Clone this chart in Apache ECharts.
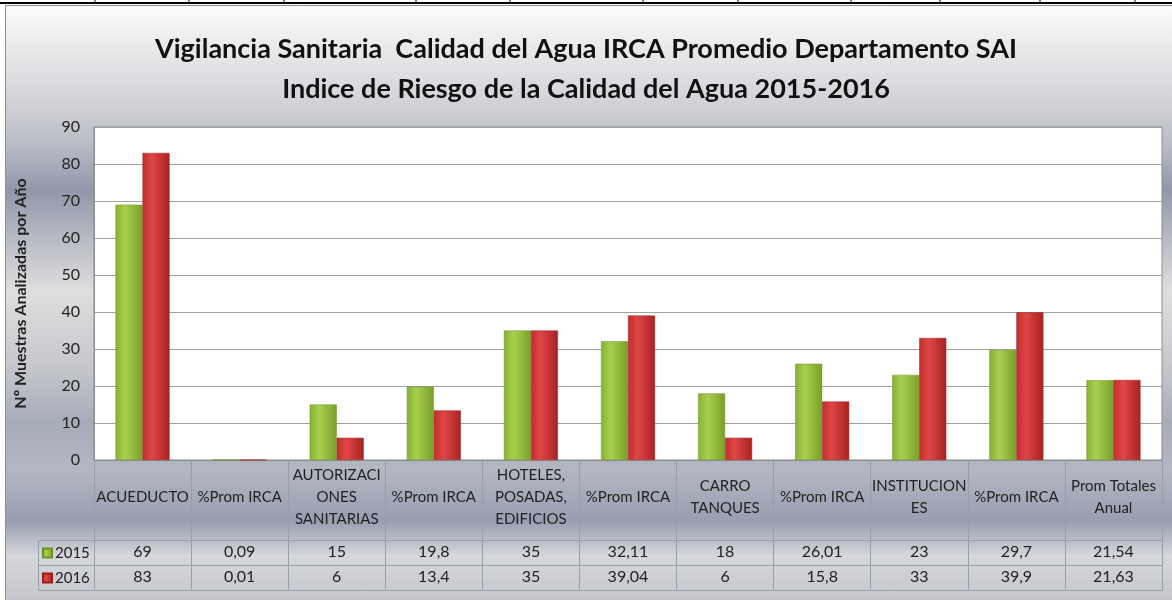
<!DOCTYPE html>
<html>
<head>
<meta charset="utf-8">
<script src="https://cdn.jsdelivr.net/npm/echarts@6/dist/echarts.min.js"></script>
<style>
html, body { margin: 0; padding: 0; background: #fff; }
#main { width: 1172px; height: 600px; }
</style>
</head>
<body>
<div id="main"></div>
<script>
var categories = ['ACUEDUCTO', '%Prom IRCA', 'AUTORIZACI\nONES\nSANITARIAS', '%Prom IRCA',
	'HOTELES,\nPOSADAS,\nEDIFICIOS', '%Prom IRCA', 'CARRO\nTANQUES', '%Prom IRCA',
	'INSTITUCION\nES', '%Prom IRCA', 'Prom Totales\nAnual'];
var years = ['2015', '2016'];
var data2015 = [69, 0.09, 15, 19.8, 35, 32.11, 18, 26.01, 23, 29.7, 21.54];
var data2016 = [83, 0.01, 6, 13.4, 35, 39.04, 6, 15.8, 33, 39.9, 21.63];
var yTicks = { min: 0, max: 90, interval: 10 };

// numeros con coma decimal como en la tabla de Excel
function fmt(v) { return String(v).replace('.', ','); }

var chart = echarts.init(document.getElementById('main'));
var font = 'Lato, "Open Sans", sans-serif';

function barGrad(c0, c1, c2) {
	return new echarts.graphic.LinearGradient(0, 0, 1, 0, [
		{offset: 0, color: c0}, {offset: 0.35, color: c1}, {offset: 1, color: c2}
	]);
}
var green = barGrad('#86b036', '#a8d04f', '#7a9f2a');
var red = barGrad('#c22d2d', '#e04646', '#a82222');

var topTicks = [95, 189, 284, 416, 510, 643, 738, 851, 940, 1040, 1135];
var deco = [];
// fondo del area del grafico
deco.push({
	type: 'rect', z: -10, silent: true,
	shape: {x: 5.5, y: 5.5, width: 1167, height: 595},
	style: {
		fill: new echarts.graphic.LinearGradient(0, 0, 0, 1, [
			{offset: 0, color: '#fbfbfb'},
			{offset: 0.16, color: '#d3d4d8'},
			{offset: 0.24, color: '#b7bac4'},
			{offset: 0.31, color: '#8f97a9'},
			{offset: 0.395, color: '#b9bcc4'},
			{offset: 0.48, color: '#dedede'},
			{offset: 0.6, color: '#c8c9ce'},
			{offset: 0.7, color: '#a7acb9'},
			{offset: 0.78, color: '#b3b7c2'},
			{offset: 0.866, color: '#979eb0'},
			{offset: 0.924, color: '#d6d7db'},
			{offset: 1, color: '#c5c6cb'}
		]),
		stroke: '#8c8c8c', lineWidth: 1
	}
});
// linea de la hoja de calculo arriba
deco.push({type: 'line', silent: true, shape: {x1: 0, y1: 3, x2: 1172, y2: 3}, style: {stroke: '#000', lineWidth: 2}});
topTicks.forEach(function (x) {
	deco.push({type: 'line', silent: true, shape: {x1: x, y1: 0, x2: x, y2: 3}, style: {stroke: '#000', lineWidth: 1}});
});
// columna de la leyenda en la tabla
[540.5, 565.5, 590.5].forEach(function (y) {
	deco.push({type: 'line', silent: true, shape: {x1: 38, y1: y, x2: 94, y2: y}, style: {stroke: '#9a9ea8', lineWidth: 1}});
});
deco.push({type: 'line', silent: true, shape: {x1: 38.5, y1: 540, x2: 38.5, y2: 591}, style: {stroke: '#9a9ea8', lineWidth: 1}});

var option = {
	animation: false,
	title: {
		text: 'Vigilancia Sanitaria  Calidad del Agua IRCA Promedio Departamento SAI\nIndice de Riesgo de la Calidad del Agua 2015-2016',
		left: 'center',
		top: 29,
		padding: 0,
		textStyle: {fontFamily: font, fontSize: 27, fontWeight: 'bold', color: '#111', lineHeight: 40}
	},
	legend: {
		data: years,
		orient: 'vertical',
		left: 42,
		top: 545,
		padding: 0,
		itemWidth: 9,
		itemHeight: 9,
		itemGap: 9,
		icon: 'rect',
		textStyle: {fontFamily: font, fontSize: 15, color: '#222', lineHeight: 16, padding: [0, 0, 0, -2]}
	},
	grid: {
		left: 94, right: 10, top: 127, bottom: 140,
		show: true, backgroundColor: '#fff', borderColor: '#8c8c8c', borderWidth: 1
	},
	graphic: deco,
	xAxis: [{
		type: 'category',
		data: categories,
		position: 'bottom',
		axisLine: {lineStyle: {color: '#8c8c8c'}},
		axisTick: {show: true, interval: 0, length: 130, lineStyle: {color: '#9a9ea8'}},
		axisLabel: {interval: 0, margin: 37, verticalAlign: 'middle', lineHeight: 22,
			fontFamily: font, fontSize: 15, color: '#222'}
	}, {
		type: 'category',
		data: data2015.map(fmt),
		position: 'bottom',
		offset: 80,
		axisLine: {lineStyle: {color: '#9a9ea8'}},
		axisTick: {show: false},
		axisLabel: {interval: 0, margin: 12, verticalAlign: 'middle', fontFamily: font, fontSize: 16, color: '#222'}
	}, {
		type: 'category',
		data: data2016.map(fmt),
		position: 'bottom',
		offset: 105,
		axisLine: {lineStyle: {color: '#9a9ea8'}},
		axisTick: {show: false},
		axisLabel: {interval: 0, margin: 12, verticalAlign: 'middle', fontFamily: font, fontSize: 16, color: '#222'}
	}, {
		type: 'category',
		data: categories,
		position: 'bottom',
		offset: 130,
		axisLine: {lineStyle: {color: '#9a9ea8'}},
		axisTick: {show: false},
		axisLabel: {show: false}
	}],
	yAxis: {
		type: 'value',
		min: yTicks.min, max: yTicks.max, interval: yTicks.interval,
		name: 'Nº Muestras Analizadas por Año',
		nameLocation: 'middle',
		nameRotate: 90,
		nameGap: 65,
		nameTextStyle: {fontFamily: font, fontSize: 16, fontWeight: 'bold', color: '#222'},
		axisLine: {show: true, lineStyle: {color: '#8c8c8c'}},
		axisTick: {show: false},
		axisLabel: {margin: 14, fontFamily: font, fontSize: 16, color: '#222'},
		splitLine: {lineStyle: {color: '#a0a0a0', width: 1}}
	},
	series: [{
		name: years[0],
		type: 'bar',
		data: data2015,
		barWidth: 27,
		barGap: '0%',
		itemStyle: {color: green, borderColor: '#6f9224', borderWidth: 0.5}
	}, {
		name: years[1],
		type: 'bar',
		data: data2016,
		barWidth: 27,
		itemStyle: {color: red, borderColor: '#9a1f1f', borderWidth: 0.5}
	}]
};
chart.setOption(option);
</script>
</body>
</html>
